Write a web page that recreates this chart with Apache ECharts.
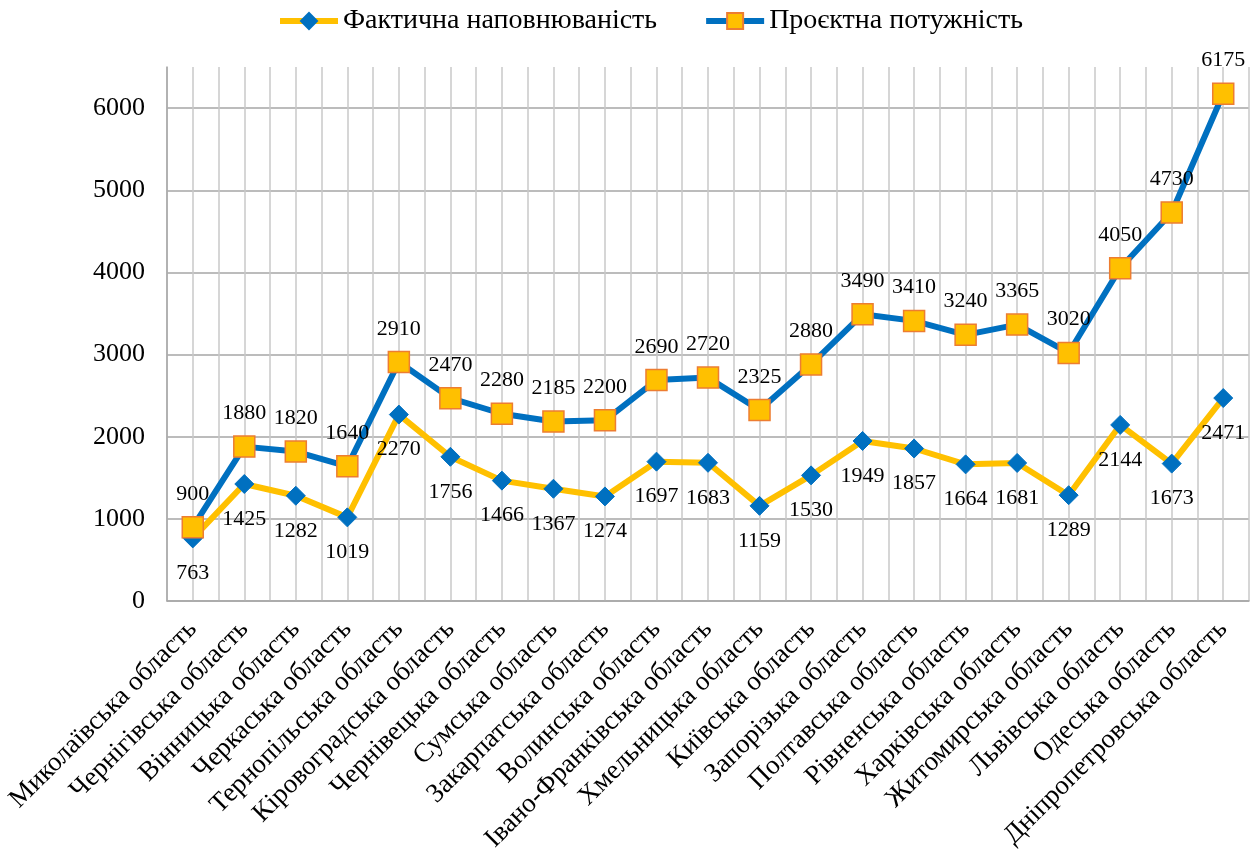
<!DOCTYPE html>
<html><head><meta charset="utf-8">
<script src="https://cdn.jsdelivr.net/npm/echarts@6/dist/echarts.min.js"></script>
<style>html,body{margin:0;padding:0;background:#fff}#c{width:1256px;height:855px}</style>
</head><body><div id="c"></div>
<script>
const categories = ['Миколаївська область','Чернігівська область','Вінницька область','Черкаська область','Тернопільська область','Кіровоградська область','Чернівецька область','Сумська область','Закарпатська область','Волинська область','Івано-Франківська область','Хмельницька область','Київська область','Запорізька область','Полтавська область','Рівненська область','Харківська область','Житомирська область','Львівська область','Одеська область','Дніпропетровська область'];
const actual = [763,1425,1282,1019,2270,1756,1466,1367,1274,1697,1683,1159,1530,1949,1857,1664,1681,1289,2144,1673,2471];
const capacity = [900,1880,1820,1640,2910,2470,2280,2185,2200,2690,2720,2325,2880,3490,3410,3240,3365,3020,4050,4730,6175];
const seriesNames = ['Фактична наповнюваність','Проєктна потужність'];

const FONT = '"Liberation Serif","Times New Roman",serif';
const chart = echarts.init(document.getElementById('c'));
chart.setOption({
  animation:false,
  textStyle:{fontFamily:FONT,color:'#000'},
  legend:{top:2,left:272,itemWidth:58,itemHeight:20,itemGap:46,
    lineStyle:{width:6},
    textStyle:{fontFamily:FONT,fontSize:28,color:'#000'},
    data:seriesNames},
  grid:{left:167,right:7,top:67,bottom:253,containLabel:false},
  xAxis:[{type:'category',data:categories,boundaryGap:true,
    axisLine:{lineStyle:{color:'#a6a6a6',width:1.5}},
    axisTick:{show:false},
    splitLine:{show:false},
    axisLabel:{rotate:45,interval:0,fontFamily:FONT,fontSize:27,color:'#000',margin:24}},
   {type:'value',min:0,max:categories.length*2,interval:1,show:true,position:'bottom',
    axisLine:{show:false},axisTick:{show:false},axisLabel:{show:false},
    splitLine:{show:true,lineStyle:{color:'#c8c8c8',width:1.5}}}],
  yAxis:{type:'value',min:0,max:6500,interval:1000,
    axisLine:{show:true,lineStyle:{color:'#a6a6a6',width:1.5}},
    axisTick:{show:false},
    axisLabel:{fontFamily:FONT,fontSize:26,color:'#000',margin:22,showMaxLabel:false,
      formatter:function(v){return String(v);}},
    splitLine:{show:true,showMaxLine:false,lineStyle:{color:'#a6a6a6',width:1.5}}},
  series:[
    {name:seriesNames[0],type:'line',data:actual,xAxisIndex:0,z:3,
     symbol:'diamond',symbolSize:19,
     lineStyle:{color:'#FFC000',width:6},
     itemStyle:{color:'#0070C0',borderColor:'#0070C0',borderWidth:1},
     label:{show:true,position:'bottom',distance:14,fontFamily:FONT,fontSize:22,color:'#000'}},
    {name:seriesNames[1],type:'line',data:capacity,xAxisIndex:0,z:4,
     symbol:'rect',symbolSize:21,
     lineStyle:{color:'#0070C0',width:6},
     itemStyle:{color:'#FFC000',borderColor:'#ED7D31',borderWidth:1.5},
     label:{show:true,position:'top',distance:11,fontFamily:FONT,fontSize:22,color:'#000'}}
  ]
});
</script></body></html>
